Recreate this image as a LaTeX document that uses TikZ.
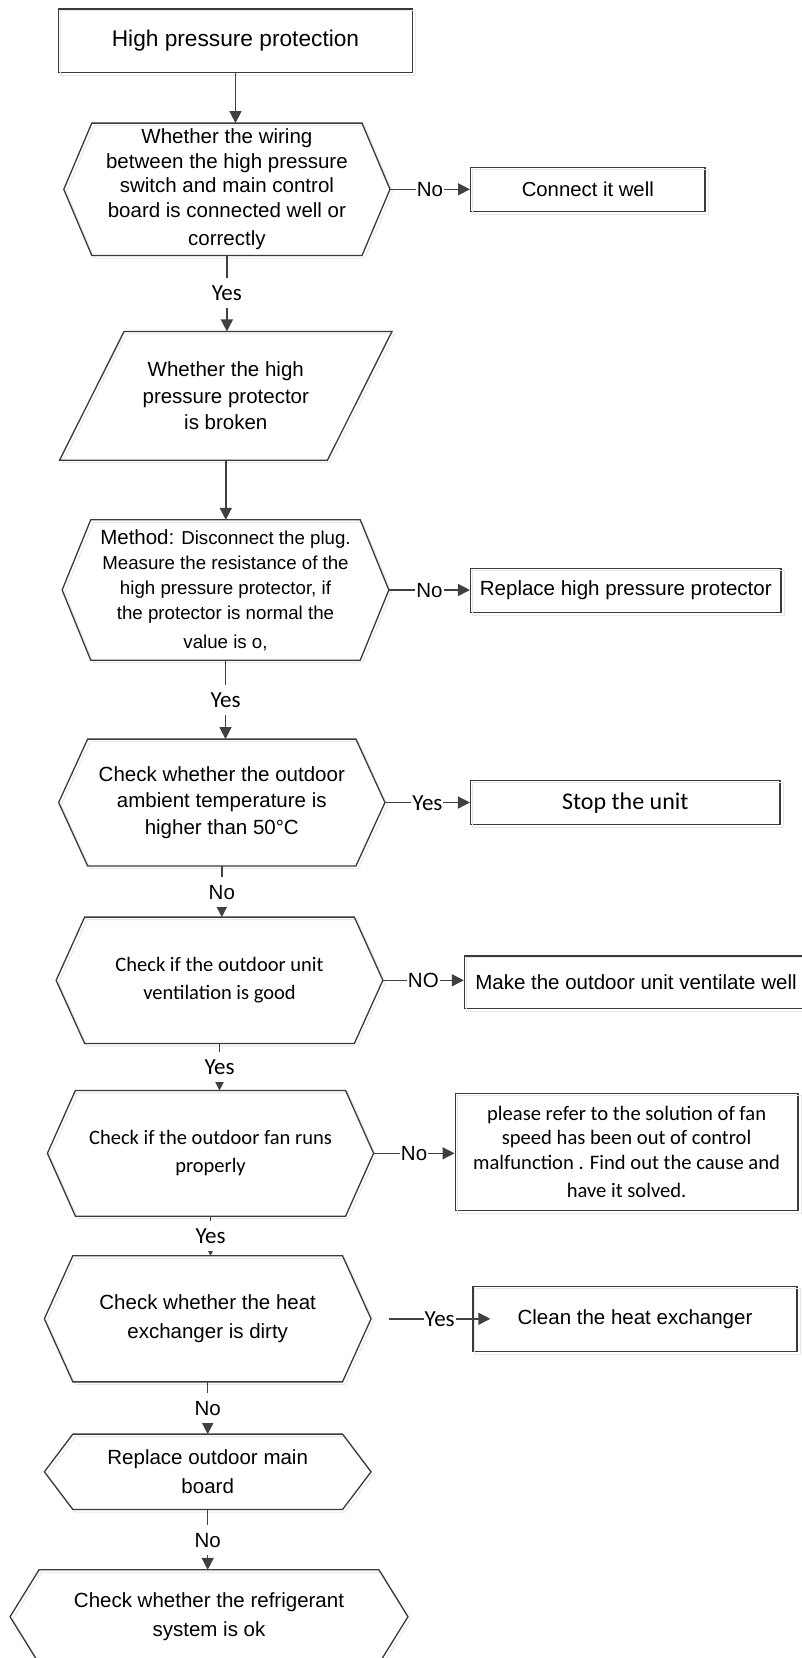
\documentclass[tikz,border=0pt]{standalone}
\usepackage{fontspec}
\setmainfont{Liberation Sans}
\newfontfamily\calib{Carlito}
\usetikzlibrary{arrows.meta}
\definecolor{shapecol}{HTML}{3A3A3A}
\definecolor{linecol}{HTML}{404040}
\newcommand\hexa[2]{%
  \draw[ghost] ([xshift=2.5pt,yshift=-2.5pt]#1.west) -- ([xshift=#2+2.5pt,yshift=-2.5pt]#1.north west) -- ([xshift=-#2+2.5pt,yshift=-2.5pt]#1.north east) -- ([xshift=2.5pt,yshift=-2.5pt]#1.east) -- ([xshift=-#2+2.5pt,yshift=-2.5pt]#1.south east) -- ([xshift=#2+2.5pt,yshift=-2.5pt]#1.south west) -- cycle;
  \draw[shp] (#1.west) -- ([xshift=#2]#1.north west) -- ([xshift=-#2]#1.north east) -- (#1.east) -- ([xshift=-#2]#1.south east) -- ([xshift=#2]#1.south west) -- cycle;}
\newcommand\boxghost[1]{%
  \draw[ghost] ([xshift=2.5pt,yshift=-2.5pt]#1.south west) rectangle ([xshift=2.5pt,yshift=-2.5pt]#1.north east);}
\begin{document}
\begin{tikzpicture}[x=1pt,y=-1pt,
  shp/.style={draw=shapecol, line width=1.3pt, line join=miter},
  ghost/.style={draw=black!9, line width=1pt},
  arr/.style={draw=linecol, line width=1.5pt, -{Triangle[length=12pt,width=12pt]}},
  lab/.style={fill=white, inner xsep=1pt, inner ysep=7.5pt, text height=15pt, text depth=0pt, font=\fontsize{20.5}{24}\selectfont},
  ylab/.style={lab, font=\calib\fontsize{23}{26}\selectfont},
  bx/.style={inner sep=0pt, align=center, text=black},
  rbox/.style={bx, draw=shapecol, line width=1.3pt},
]
\useasboundingbox (0,0) rectangle (801,1658);

% ---- main column ----
\node[rbox, minimum width=353.5pt, minimum height=63.7pt, font=\fontsize{22.7}{27}\selectfont] (top) at (235.5,40.8) {High pressure protection};
\boxghost{top}

\node[bx, minimum width=325.8pt, minimum height=132pt, font=\fontsize{20.5}{24.6}\selectfont] (h1) at (226.9,189.3)
  {Whether the wiring\\between the high pressure\\switch and main control\\board is connected well or\\[4pt]correctly};
\hexa{h1}{28pt}

\node[bx, minimum width=332pt, minimum height=128.3pt, font=\fontsize{20.5}{26.7}\selectfont] (p1) at (225.8,395.8)
  {Whether the high\\pressure protector\\is broken};
\draw[ghost] ([xshift=2.5pt,yshift=-2.5pt]p1.south west) -- ([xshift=-64.5pt+2.5pt,yshift=-2.5pt]p1.south east) -- ([xshift=2.5pt,yshift=-2.5pt]p1.north east) -- ([xshift=64.5pt+2.5pt,yshift=-2.5pt]p1.north west) -- cycle;
\draw[shp] (p1.south west) -- ([xshift=-64.5pt]p1.south east) -- (p1.north east) -- ([xshift=64.5pt]p1.north west) -- cycle;

\node[bx, minimum width=326.3pt, minimum height=140pt, font=\fontsize{18.7}{25}\selectfont] (h2) at (225.5,590)
  {{\fontsize{20.5}{25}\selectfont Method:} Disconnect the plug.\\Measure the resistance of the\\high pressure protector, if\\the protector is normal the\\[4pt]value is o,};
\hexa{h2}{28.6pt}

\node[bx, minimum width=325.9pt, minimum height=126.4pt, font=\fontsize{20.5}{26.6}\selectfont] (h3) at (221.8,802.5)
  {Check whether the outdoor\\ambient temperature is\\higher than 50°C};
\hexa{h3}{29pt}

\node[bx, minimum width=326.3pt, minimum height=126pt, font=\calib\fontsize{20.5}{28.3}\selectfont] (h4) at (219.5,980.3)
  {Check if the outdoor unit\\ventilation is good};
\hexa{h4}{28.5pt}

\node[bx, minimum width=325.8pt, minimum height=125.3pt, font=\calib\fontsize{20.5}{28}\selectfont] (h5) at (210.5,1153.3)
  {Check if the outdoor fan runs\\properly};
\hexa{h5}{28pt}

\node[bx, minimum width=326.3pt, minimum height=125.7pt, font=\fontsize{20.5}{29.4}\selectfont] (h6) at (207.7,1318.8)
  {Check whether the heat\\exchanger is dirty};
\hexa{h6}{28.5pt}

\node[bx, minimum width=326.3pt, minimum height=75pt, font=\fontsize{20.5}{29}\selectfont] (h7) at (207.7,1471.8)
  {Replace outdoor main\\board};
\hexa{h7}{28.5pt}

\node[bx, minimum width=397.5pt, minimum height=93.4pt, font=\fontsize{20.5}{28.3}\selectfont] (h8) at (209,1616.7)
  {Check whether the refrigerant\\system is ok};
\hexa{h8}{29pt}

% ---- right column ----
\node[rbox, minimum width=234.3pt, minimum height=44pt, font=\fontsize{20.3}{24}\selectfont] (b1) at (587.8,189.7) {Connect it well};
\boxghost{b1}
\node[rbox, minimum width=310.4pt, minimum height=44.4pt, font=\fontsize{20.5}{24}\selectfont] (b2) at (625.8,590.5) {Replace high pressure protector};
\boxghost{b2}
\node[rbox, minimum width=309.4pt, minimum height=44pt, font=\calib\fontsize{24}{28}\selectfont] (b3) at (625.3,802.7) {Stop the unit};
\boxghost{b3}
\node[rbox, minimum width=343pt, minimum height=52.3pt, font=\fontsize{20.5}{24}\selectfont] (b4) at (636,982.2) {Make the outdoor unit ventilate well};
\boxghost{b4}
\node[rbox, minimum width=342.8pt, minimum height=117.4pt, font=\calib\fontsize{20.6}{24.2}\selectfont] (b5) at (626.6,1152)
  {please refer to the solution of fan\\speed has been out of control\\malfunction . Find out the cause and\\[4pt]have it solved.};
\boxghost{b5}
\node[rbox, minimum width=324pt, minimum height=65pt, font=\fontsize{20.5}{24}\selectfont] (b6) at (635,1319.2) {Clean the heat exchanger};
\boxghost{b6}

% ---- vertical connectors ----
\draw[arr] (top.south) -- (top.south |- h1.north);
\draw[arr] (h1.south) -- node[ylab]{Yes} (h1.south |- p1.north);
\draw[arr] (p1.south) -- (p1.south |- h2.north);
\draw[arr] (h2.south) -- node[ylab]{Yes} (h2.south |- h3.north);
\draw[arr] (h3.south) -- node[lab]{No} (h3.south |- h4.north);
\draw[arr] (h4.south) -- node[ylab]{Yes} (h4.south |- h5.north);
\draw[arr] (h5.south) -- node[ylab]{Yes} (h5.south |- h6.north);
\draw[arr] (h6.south) -- node[lab]{No} (h6.south |- h7.north);
\draw[arr] (h7.south) -- node[lab]{No} (h7.south |- h8.north);

% ---- horizontal connectors ----
\draw[arr] (h1.east) -- node[lab]{No} (h1.east -| b1.west);
\draw[arr] (h2.east) -- node[lab]{No} (h2.east -| b2.west);
\draw[arr] (h3.east) -- node[ylab]{Yes} (h3.east -| b3.west);
\draw[arr] (h4.east) -- node[lab]{NO} (h4.east -| b4.west);
\draw[arr] (h5.east) -- node[lab]{No} (h5.east -| b5.west);
\draw[arr] ([xshift=18pt]h6.east) -- node[ylab]{Yes} ([xshift=18pt]h6.east -| b6.west);
\end{tikzpicture}
\end{document}
